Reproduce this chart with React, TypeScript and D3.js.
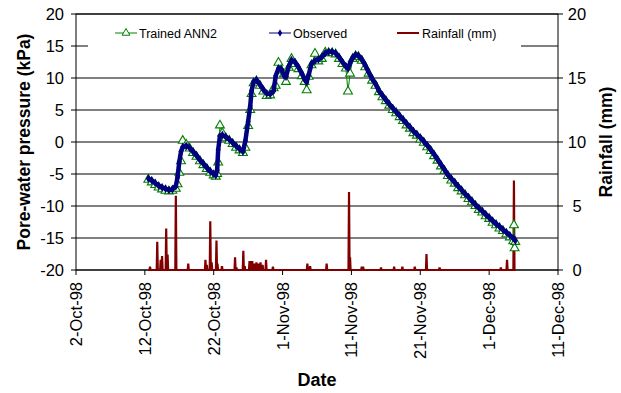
import React from 'react';
import * as d3 from 'd3';

const xTickLabels = ["2-Oct-98", "12-Oct-98", "22-Oct-98", "1-Nov-98", "11-Nov-98", "21-Nov-98", "1-Dec-98", "11-Dec-98"];
const xTickDays = [0, 10, 20, 30, 40, 50, 60, 70];
const leftTicks = [20, 15, 10, 5, 0, -5, -10, -15, -20];
const rightTicks = [20, 15, 10, 5, 0];

// days since 2-Oct-98
const obsDay = [10.5, 11, 11.5, 12, 12.5, 13, 13.5, 14, 14.5, 14.75, 15, 15.25, 15.5, 16, 16.5, 17, 17.5, 18, 18.5, 19, 19.5, 20, 20.3, 20.5, 20.65, 20.9, 21.25, 21.75, 22.25, 22.75, 23.25, 23.75, 24.25, 24.6, 25, 25.3, 25.5, 25.8, 26.2, 26.7, 27.2, 27.7, 28.2, 28.7, 29, 29.4, 29.8, 30.2, 30.5, 30.9, 31.3, 31.8, 32.3, 32.8, 33.2, 33.5, 33.8, 34.2, 34.7, 35.2, 35.7, 36.2, 36.7, 37.2, 37.7, 38.2, 38.7, 39.2, 39.5, 39.8, 40.2, 40.6, 41, 41.5, 42, 42.5, 43, 43.5, 44, 44.5, 45, 45.5, 46, 46.5, 47, 47.5, 48, 48.5, 49, 49.5, 50, 50.5, 51, 51.5, 52, 52.5, 53, 53.5, 54, 54.5, 55, 55.5, 56, 56.5, 57, 57.5, 58, 58.5, 59, 59.5, 60, 60.5, 61, 61.5, 62, 62.5, 63, 63.5, 63.8];
const obsKPa = [-5.7, -6.0, -6.4, -6.8, -7.1, -7.3, -7.5, -7.4, -6.9, -5.5, -3.1, -1.5, -0.8, -0.6, -0.9, -1.5, -2.1, -2.8, -3.4, -4.0, -4.6, -5.0, -5.2, -4.4, -1.2, 0.9, 1.1, 0.8, 0.4, -0.1, -0.6, -1.1, -1.5, 0.2, 3.2, 5.6, 8.0, 9.4, 9.7, 9.0, 8.2, 7.6, 7.5, 8.0, 10.3, 11.5, 11.4, 10.4, 10.2, 11.8, 12.8, 12.5, 11.7, 10.7, 9.8, 9.4, 10.5, 12.2, 12.7, 12.9, 13.3, 13.9, 14.1, 14.1, 13.9, 13.3, 12.5, 11.8, 11.5, 12.3, 13.2, 13.6, 13.5, 12.9, 12.0, 10.9, 9.9, 9.1, 8.0, 7.3, 6.6, 5.9, 5.3, 4.7, 4.1, 3.5, 2.9, 2.3, 1.7, 1.2, 0.7, 0.1, -0.5, -1.2, -1.9, -2.7, -3.5, -4.3, -5.1, -5.7, -6.3, -6.9, -7.5, -8.1, -8.6, -9.2, -9.8, -10.3, -10.8, -11.3, -11.8, -12.3, -12.8, -13.2, -13.7, -14.1, -14.6, -15.0, -15.4];

const annDay = [10.5, 11, 11.5, 12, 12.5, 13, 13.5, 14, 14.5, 14.75, 15, 15.25, 15.5, 16, 16.5, 17, 17.5, 18, 18.5, 19, 19.5, 20, 20.3, 20.5, 20.65, 20.9, 21.25, 21.75, 22.25, 22.75, 23.25, 23.75, 24.25, 24.6, 25, 25.3, 25.5, 25.8, 26.2, 26.7, 27.2, 27.7, 28.2, 28.7, 29, 29.4, 29.8, 30.2, 30.5, 30.9, 31.3, 31.8, 32.3, 32.8, 33.2, 33.5, 33.8, 34.2, 34.7, 35.2, 35.7, 36.2, 36.7, 37.2, 37.7, 38.2, 38.7, 39.2, 39.5, 39.8, 40.2, 40.6, 41, 41.5, 42, 42.5, 43, 43.5, 44, 44.5, 45, 45.5, 46, 46.5, 47, 47.5, 48, 48.5, 49, 49.5, 50, 50.5, 51, 51.5, 52, 52.5, 53, 53.5, 54, 54.5, 55, 55.5, 56, 56.5, 57, 57.5, 58, 58.5, 59, 59.5, 60, 60.5, 61, 61.5, 62, 62.5, 63, 63.5, 63.6, 63.7, 63.8];
const annKPa = [-5.9, -6.3, -6.7, -7.1, -7.4, -7.6, -7.7, -7.6, -7.3, -6.6, -4.8, -3.0, 0.2, -0.4, -1.0, -1.7, -2.3, -3.0, -3.6, -4.2, -4.8, -5.2, -5.4, -5.0, -3.2, 2.6, 1.4, 0.6, 0.2, -0.3, -0.9, -1.3, -1.7, -0.9, 2.5, 5.0, 7.5, 9.2, 9.5, 8.8, 7.9, 7.2, 7.3, 8.4, 8.8, 12.4, 11.2, 10.6, 9.4, 11.6, 13.0, 12.2, 11.4, 10.3, 9.4, 8.1, 10.2, 12.0, 13.8, 12.6, 13.0, 14.0, 13.9, 13.9, 13.7, 13.0, 12.2, 11.5, 7.9, 10.7, 13.0, 13.4, 13.3, 12.7, 11.7, 10.7, 9.6, 8.8, 7.8, 7.0, 6.4, 5.7, 5.0, 4.5, 3.9, 3.3, 2.6, 2.1, 1.4, 1.0, 0.4, -0.1, -0.8, -1.4, -2.2, -2.9, -3.8, -4.5, -5.3, -6.0, -6.5, -7.2, -7.7, -8.3, -8.9, -9.4, -10.0, -10.6, -11.0, -11.6, -12.0, -12.6, -13.0, -13.5, -13.9, -14.4, -14.9, -15.5, -13.0, -16.6, -15.6];

const rainDay = [10.5, 10.75, 11.8, 12.3, 12.5, 13.1, 13.3, 14.5, 16.3, 18.8, 19.0, 19.5, 19.7, 20.4, 20.55, 21.2, 23.1, 23.3, 24.3, 24.5, 25.2, 25.4, 25.6, 25.9, 26.2, 26.5, 26.8, 27.1, 27.6, 28.6, 33.6, 34.0, 36.4, 39.65, 39.8, 41.5, 41.7, 44.3, 46.2, 47.4, 49.2, 50.9, 52.8, 61.7, 62.6, 63.6, 63.8];
const rainMm = [0, 0.25, 2.2, 0.8, 1.1, 3.25, 1.2, 5.8, 0.5, 0.8, 0.4, 3.8, 0.6, 2.3, 0.5, 0.3, 1.0, 0.2, 1.5, 0.3, 0.7, 0.7, 0.7, 0.5, 0.6, 0.5, 0.6, 0.4, 0.8, 0.25, 0.5, 0.3, 0.5, 6.1, 1.0, 0.25, 0.25, 0.2, 0.25, 0.25, 0.25, 1.25, 0.2, 0.2, 0.8, 7.0, 0];

const FONT = "'Liberation Sans', Arial, sans-serif";
const GREEN = '#008000';
const NAVY = '#000080';
const RED = '#800000';

export default function App() {
  const X0 = 76, X1 = 558, Y0 = 14, Y1 = 270;
  const x = d3.scaleLinear().domain([0, 70]).range([X0, X1]);
  const yL = d3.scaleLinear().domain([-20, 20]).range([Y1, Y0]);
  const yR = d3.scaleLinear().domain([0, 20]).range([Y1, Y0]);

  const obs: [number, number][] = obsDay.map((d, i) => [d, obsKPa[i]]);
  const ann: [number, number][] = annDay.map((d, i) => [d, annKPa[i]]);
  const lineL = d3.line<[number, number]>().x(d => x(d[0])).y(d => yL(d[1]));

  const rainPts: [number, number][] = [];
  rainDay.forEach((d, i) => {
    const r = rainMm[i];
    if (r === 0) rainPts.push([d, 0]);
    else { rainPts.push([d - 0.08, 0]); rainPts.push([d, r]); rainPts.push([d + 0.08, 0]); }
  });
  const lineR = d3.line<[number, number]>().x(d => x(d[0])).y(d => yR(d[1]));

  const tri = d3.symbol(d3.symbolTriangle, 34)()!;
  const triLeg = d3.symbol(d3.symbolTriangle, 26)()!;
  const dia = d3.symbol(d3.symbolDiamond, 22)()!;

  return (
    <svg width={621} height={393} style={{ position: 'absolute', left: 0, top: 0, background: '#fff' }} fontFamily={FONT}>
      <rect x={0} y={0} width={621} height={393} fill="#fff" />
      {leftTicks.map(t => (
        <line key={'g' + t} x1={X0} x2={X1} y1={yL(t)} y2={yL(t)} stroke="#000" strokeWidth={1} />
      ))}
      <rect x={88} y={18} width={433} height={32} fill="#fff" />
      <g fontSize={12.5}>
        <line x1={115} x2={137} y1={33} y2={33} stroke={GREEN} strokeWidth={1} />
        <path d={triLeg} transform="translate(126,33)" fill="#fff" stroke={GREEN} strokeWidth={1} />
        <text x={139} y={37.5} fill="#000">Trained ANN2</text>
        <line x1={269} x2={291} y1={33} y2={33} stroke={NAVY} strokeWidth={1} />
        <path d={d3.symbol(d3.symbolDiamond, 16)()!} transform="translate(280,33)" fill={NAVY} />
        <text x={293} y={37.5} fill="#000">Observed</text>
        <line x1={397} x2={419} y1={33} y2={33} stroke={RED} strokeWidth={2} />
        <text x={422} y={37.5} fill="#000">Rainfall (mm)</text>
      </g>
      <rect x={X0} y={Y0} width={X1 - X0} height={Y1 - Y0} fill="none" stroke="#000" strokeWidth={1} />
      <path d={lineR(rainPts)!} fill="none" stroke={RED} strokeWidth={2.2} strokeLinejoin="miter" />
      <path d={lineL(ann)!} fill="none" stroke={GREEN} strokeWidth={1} />
      {ann.map((p, i) => (
        <path key={'a' + i} d={tri} transform={`translate(${x(p[0])},${yL(p[1])})`} fill="#fff" stroke={GREEN} strokeWidth={1.1} />
      ))}
      <path d={lineL(obs)!} fill="none" stroke={NAVY} strokeWidth={4.5} strokeLinejoin="round" />
      {obs.map((p, i) => (
        <path key={'o' + i} d={dia} transform={`translate(${x(p[0])},${yL(p[1])})`} fill={NAVY} />
      ))}
      {leftTicks.map(t => (
        <g key={'l' + t}>
          <line x1={X0 - 5} x2={X0} y1={yL(t)} y2={yL(t)} stroke="#000" />
          <text x={64} y={yL(t)} dy="0.36em" textAnchor="end" fontSize={16.5} fill="#000">{t}</text>
        </g>
      ))}
      {rightTicks.map(t => (
        <g key={'r' + t}>
          <line x1={X1} x2={X1 + 5} y1={yR(t)} y2={yR(t)} stroke="#000" />
          <text x={577} y={yR(t)} dy="0.36em" textAnchor="middle" fontSize={16.5} fill="#000">{t}</text>
        </g>
      ))}
      {xTickDays.map((d, i) => (
        <g key={'x' + d}>
          <line x1={x(d)} x2={x(d)} y1={Y1} y2={Y1 + 5} stroke="#000" />
          <text transform={`translate(${x(d)},${Y1 + 12}) rotate(-90)`} dy="0.36em" textAnchor="end" fontSize={16.5} fill="#000">{xTickLabels[i]}</text>
        </g>
      ))}
      <text x={(X0 + X1) / 2} y={386} textAnchor="middle" fontSize={18} fontWeight="bold" fill="#000">Date</text>
      <text transform={`translate(24,${(Y0 + Y1) / 2}) rotate(-90)`} dy="0.36em" textAnchor="middle" fontSize={17.5} fontWeight="bold" fill="#000">Pore-water pressure (kPa)</text>
      <text transform={`translate(606,${(Y0 + Y1) / 2}) rotate(-90)`} dy="0.36em" textAnchor="middle" fontSize={17.5} fontWeight="bold" fill="#000">Rainfall (mm)</text>
    </svg>
  );
}
